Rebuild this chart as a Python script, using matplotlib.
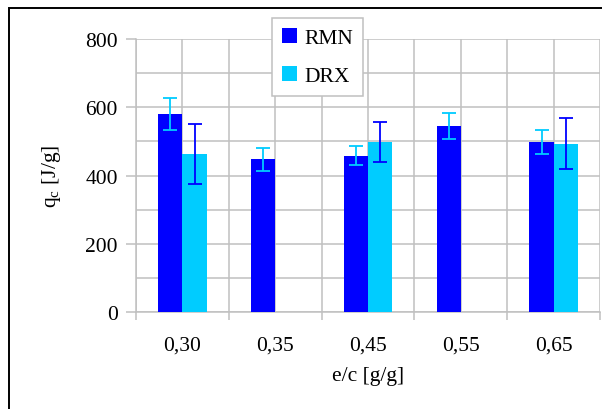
import numpy as np
import matplotlib
matplotlib.use("Agg")
import matplotlib.pyplot as plt
from matplotlib.patches import Rectangle

plt.rcParams['font.family'] = ['Liberation Serif', 'DejaVu Serif']
plt.rcParams['mathtext.fontset'] = 'custom'
plt.rcParams['mathtext.rm'] = 'Liberation Serif'

# data
categories = ['0,30', '0,35', '0,45', '0,55', '0,65']
rmn = [580, 447, 458, 545, 499]
rmn_err = [46, 33, 28, 38, 35]
drx = [463, np.nan, 499, np.nan, 493]
drx_err = [87, np.nan, 58, np.nan, 75]

blue = '#0000FF'
cyan = '#00CCFF'
grid_c = '#C0C0C0'
fs = 15.5

fig = plt.figure(figsize=(6.02, 4.10), dpi=100)
ax = fig.add_axes([0.226, 0.2366, 0.7707, 0.6658])

x = np.arange(len(categories))
w = 0.26
ax.bar(x - w/2, rmn, w, color=blue, label='RMN', zorder=3)
ax.bar(x + w/2, drx, w, color=cyan, label='DRX', zorder=3)
ax.errorbar(x - w/2, rmn, yerr=rmn_err, fmt='none', ecolor=cyan,
            elinewidth=1.3, capsize=5, capthick=1.3, zorder=4)
ax.errorbar(x + w/2, drx, yerr=drx_err, fmt='none', ecolor=blue,
            elinewidth=1.3, capsize=5, capthick=1.3, zorder=4)

ax.set_xlim(-0.5, len(categories) - 0.5)
ax.set_ylim(0, 800)
ax.set_xticks(x)
ax.set_xticklabels(categories)
ax.set_xticks(np.arange(-0.5, len(categories), 1.0), minor=True)
ax.set_yticks(np.arange(0, 801, 200))
ax.set_yticks(np.arange(0, 801, 100), minor=True)

ax.tick_params(axis='x', which='major', length=0, pad=17, labelsize=fs)
ax.tick_params(axis='x', which='minor', length=6, width=1.1, color=grid_c,
               direction='out')
ax.tick_params(axis='y', which='major', length=7, width=1.1, color=grid_c,
               direction='out', labelsize=fs, pad=6)
ax.tick_params(axis='y', which='minor', length=0)

ax.grid(True, which='both', color=grid_c, linewidth=1.1, zorder=0)
ax.set_axisbelow(True)
for s in ['top', 'right']:
    ax.spines[s].set_visible(False)
for s in ['left', 'bottom']:
    ax.spines[s].set_color(grid_c)
    ax.spines[s].set_linewidth(1.1)

ax.set_xlabel('e/c [g/g]', fontsize=fs, labelpad=8)
ax.set_ylabel(r'q$_\mathrm{c}$ [J/g]', fontsize=fs, labelpad=16)

leg = fig.legend(loc='upper left', bbox_to_anchor=(272/602, 1 - 19/410),
                 borderaxespad=0, fontsize=fs, fancybox=False, framealpha=1,
                 edgecolor=grid_c, handlelength=0.7, handleheight=0.7,
                 labelspacing=0.85, handletextpad=0.35, borderpad=0.45)
leg.get_frame().set_linewidth(1.1)

# outer chart border (left and top visible only)
fig.patches.append(Rectangle((9/602, -0.2), 1.2, 1.2 - 9/410,
                             transform=fig.transFigure, fill=False,
                             edgecolor='black', linewidth=1.4))

fig.savefig('out.png', dpi=100)
